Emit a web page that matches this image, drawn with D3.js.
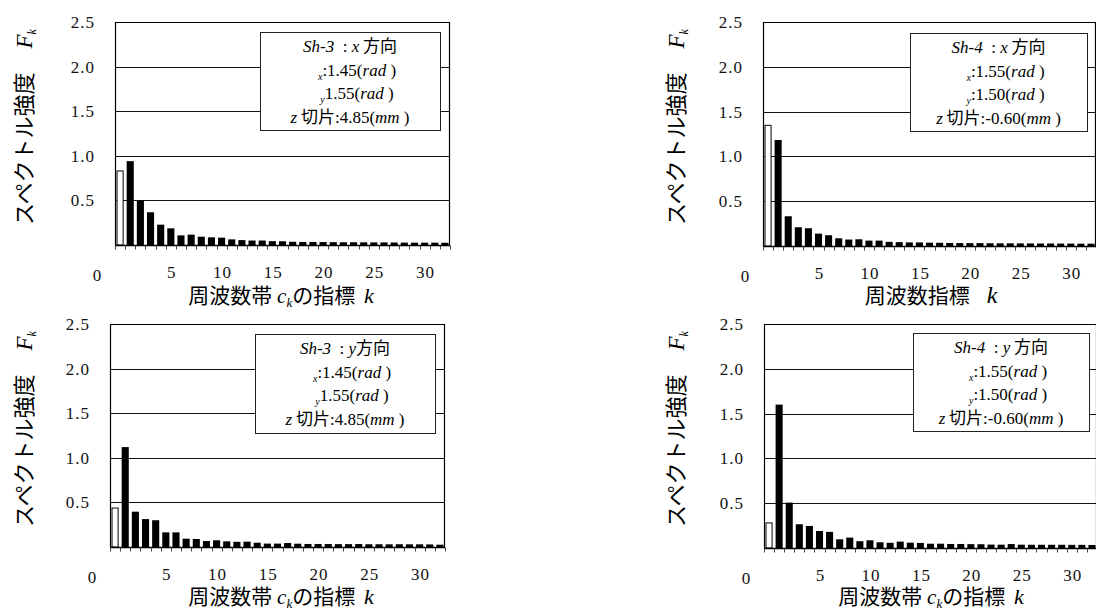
<!DOCTYPE html>
<html><head><meta charset="utf-8">
<script src="https://cdn.jsdelivr.net/npm/d3@7"></script>
<style>body{margin:0;background:#fff;overflow:hidden}</style>
</head><body><svg id="c" width="1096" height="608"></svg>
<script>
// ---- data ----
const categories = d3.range(0, 33);
const sh3xValues = [0.83, 0.94, 0.50, 0.367, 0.228, 0.187, 0.108, 0.116, 0.093, 0.086, 0.082, 0.063, 0.055, 0.05, 0.05, 0.043, 0.042, 0.036, 0.034, 0.034, 0.033, 0.032, 0.031, 0.031, 0.03, 0.029, 0.029, 0.028, 0.027, 0.026, 0.026, 0.026, 0.025];
const sh4xValues = [1.347, 1.183, 0.332, 0.209, 0.198, 0.138, 0.12, 0.086, 0.072, 0.075, 0.06, 0.06, 0.046, 0.043, 0.04, 0.04, 0.037, 0.036, 0.034, 0.033, 0.032, 0.032, 0.031, 0.03, 0.03, 0.029, 0.029, 0.028, 0.028, 0.027, 0.027, 0.026, 0.026];
const sh3yValues = [0.437, 1.12, 0.396, 0.313, 0.30, 0.164, 0.164, 0.093, 0.09, 0.067, 0.075, 0.063, 0.058, 0.06, 0.048, 0.038, 0.038, 0.045, 0.037, 0.034, 0.034, 0.033, 0.032, 0.032, 0.033, 0.031, 0.031, 0.03, 0.031, 0.03, 0.03, 0.029, 0.026];
const sh4yValues = [0.28, 1.60, 0.507, 0.265, 0.246, 0.19, 0.18, 0.097, 0.116, 0.076, 0.086, 0.064, 0.058, 0.071, 0.06, 0.057, 0.048, 0.048, 0.045, 0.045, 0.043, 0.042, 0.038, 0.037, 0.044, 0.037, 0.036, 0.036, 0.036, 0.036, 0.035, 0.035, 0.034];
const yTickValues = [0.5, 1.0, 1.5, 2.0, 2.5];
const yTickLabels = ["0.5", "1.0", "1.5", "2.0", "2.5"];
const xTickValues = [5, 10, 15, 20, 25, 30];
const xZeroLabel = "0";
const yTitleText = "スペクトル強度";
const legendSh3x = [
  [["Sh-3", "i"], ["  : ", "r"], ["x", "i"], [" 方向", "c"]],
  [["x", "sub"], [":1.45(", "r"], ["rad", "i"], [" )", "r"]],
  [["y", "sub"], ["1.55(", "r"], ["rad", "i"], [" )", "r"]],
  [["z", "i"], [" 切片", "c"], [":4.85(", "r"], ["mm", "i"], [" )", "r"]]
];
const legendSh4x = [
  [["Sh-4", "i"], ["  : ", "r"], ["x", "i"], [" 方向", "c"]],
  [["x", "sub"], [":1.55(", "r"], ["rad", "i"], [" )", "r"]],
  [["y", "sub"], [":1.50(", "r"], ["rad", "i"], [" )", "r"]],
  [["z", "i"], [" 切片", "c"], [":-0.60(", "r"], ["mm", "i"], [" )", "r"]]
];
const legendSh3y = [
  [["Sh-3", "i"], ["  : ", "r"], ["y", "i"], ["方向", "c"]],
  [["x", "sub"], [":1.45(", "r"], ["rad", "i"], [" )", "r"]],
  [["y", "sub"], ["1.55(", "r"], ["rad", "i"], [" )", "r"]],
  [["z", "i"], [" 切片", "c"], [":4.85(", "r"], ["mm", "i"], [" )", "r"]]
];
const legendSh4y = [
  [["Sh-4", "i"], ["  : ", "r"], ["y", "i"], [" 方向", "c"]],
  [["x", "sub"], [":1.55(", "r"], ["rad", "i"], [" )", "r"]],
  [["y", "sub"], [":1.50(", "r"], ["rad", "i"], [" )", "r"]],
  [["z", "i"], [" 切片", "c"], [":-0.60(", "r"], ["mm", "i"], [" )", "r"]]
];
const xTitleBand = [["周波数帯 ", "c"], ["c", "ib"], ["k", "sub"], ["の指標 ", "c"], ["k", "ik"]];
const xTitleIndex = [["周波数指標", "c"], ["k", "ikg"]];

// ---- drawing ----
const SERIF = "'Liberation Serif','Times New Roman',serif";
const CJK = "'Noto Sans CJK JP','Noto Sans CJK SC',sans-serif";
const svg = d3.select("#c");

function addSegments(textSel, segs, baseSize) {
  let prevSub = false;
  segs.forEach(([t, s]) => {
    const ts = textSel.append("tspan").text(t).attr("xml:space", "preserve");
    let dy = 0;
    if (s === "sub") { dy = prevSub ? 0 : 4; }
    else if (prevSub) { dy = -4; }
    if (dy) ts.attr("dy", dy);
    prevSub = s === "sub";
    if (s === "c") ts.attr("font-family", CJK).attr("font-size", baseSize);
    else if (s === "i") ts.attr("font-family", SERIF).attr("font-style", "italic").attr("font-size", baseSize);
    else if (s === "r") ts.attr("font-family", SERIF).attr("font-size", baseSize);
    else if (s === "sub") ts.attr("font-family", SERIF).attr("font-style", "italic").attr("font-size", Math.round(baseSize * 0.6));
    else if (s === "ib") ts.attr("font-family", SERIF).attr("font-style", "italic").attr("font-size", baseSize);
    else if (s === "ik") ts.attr("font-family", SERIF).attr("font-style", "italic").attr("font-size", baseSize + 1).attr("dx", 4);
    else if (s === "ikg") ts.attr("font-family", SERIF).attr("font-style", "italic").attr("font-size", baseSize + 3).attr("dx", 17);
  });
}

function drawPanel(p) {
  const g = svg.append("g");
  const x = d3.scaleBand().domain(categories).range([p.left, p.right]).paddingInner(0.3).paddingOuter(0.15);
  const xb = d3.scaleLinear().domain([0, categories.length]).range([p.left, p.right]);
  const y = d3.scaleLinear().domain([0, 2.5]).range([p.bottom, p.top]);

  // gridlines
  g.selectAll("line.grid").data(yTickValues.slice(0, 4)).join("line")
    .attr("x1", p.left).attr("x2", p.right)
    .attr("y1", d => Math.round(y(d)) + 0.5).attr("y2", d => Math.round(y(d)) + 0.5)
    .attr("stroke", "#111").attr("stroke-width", 1);

  // frame (top, left, right)
  const t = Math.round(y(2.5)) + 0.5, b = Math.round(y(0)) + 0.5;
  g.append("path")
    .attr("d", `M${p.left + 0.5},${b}V${t}H${p.right - 0.5}V${b}`)
    .attr("fill", "none").attr("stroke", "#000").attr("stroke-width", 1.2);

  // legend box
  const lg = g.append("g");
  lg.append("rect").attr("x", p.box[0] + 0.5).attr("y", p.box[1] + 0.5)
    .attr("width", p.box[2] - p.box[0]).attr("height", p.box[3] - p.box[1])
    .attr("fill", "#fff").attr("stroke", "#222").attr("stroke-width", 1);
  const cx = (p.box[0] + p.box[2]) / 2;
  p.legend.forEach((line, i) => {
    const tx = lg.append("text").attr("x", cx + (i === 1 || i === 2 ? 7 : 0)).attr("y", p.box[1] + 20 + i * 23.5)
      .attr("text-anchor", "middle").attr("fill", "#000");
    addSegments(tx, line, 17);
  });

  // bars
  const rows = p.values.map((v, i) => ({ k: categories[i], v }));
  g.selectAll("rect.bar").data(rows).join("rect")
    .attr("x", d => x(d.k) + (d.k === 0 ? 0.5 : 0))
    .attr("width", d => x.bandwidth() - (d.k === 0 ? 1 : 0))
    .attr("y", d => y(d.v))
    .attr("height", d => y(0) - y(d.v))
    .attr("fill", d => d.k === 0 ? "#fff" : "#000")
    .attr("stroke", d => d.k === 0 ? "#000" : "none")
    .attr("stroke-width", 1);

  // baseline and ticks
  g.append("line").attr("x1", p.left).attr("x2", p.right).attr("y1", b).attr("y2", b)
    .attr("stroke", "#000").attr("stroke-width", 1.3);
  g.selectAll("line.tk").data(d3.range(0, categories.length + 1)).join("line")
    .attr("x1", d => Math.round(xb(d)) + 0.5).attr("x2", d => Math.round(xb(d)) + 0.5)
    .attr("y1", b).attr("y2", b + 4).attr("stroke", "#444").attr("stroke-width", 1);

  // y tick labels
  g.selectAll("text.yl").data(yTickValues).join("text")
    .attr("x", p.left - 20).attr("y", d => y(d) + 6)
    .attr("text-anchor", "end").attr("font-family", SERIF).attr("font-size", 17)
    .attr("letter-spacing", 1).attr("fill", "#111")
    .text((d, i) => yTickLabels[i]);

  // x tick labels
  g.selectAll("text.xl").data(xTickValues).join("text")
    .attr("x", d => x(d) + x.bandwidth() / 2 + 1).attr("y", p.bottom + 33)
    .attr("text-anchor", "middle").attr("font-family", SERIF).attr("font-size", 17)
    .attr("letter-spacing", 1).attr("fill", "#111")
    .text(d => d);
  g.append("text").attr("x", p.left - 18).attr("y", p.bottom + 36)
    .attr("text-anchor", "middle").attr("font-family", SERIF).attr("font-size", 17).attr("fill", "#111")
    .text(xZeroLabel);

  // x title
  const xt = g.append("text").attr("x", p.xTitleX).attr("y", p.xTitleY)
    .attr("text-anchor", "middle").attr("fill", "#000");
  addSegments(xt, p.xTitle, 21);

  // y title (rotated)
  const yt = g.append("text")
    .attr("transform", `translate(${p.yTitleX},${p.top + 105}) rotate(-90)`)
    .attr("text-anchor", "middle").attr("fill", "#000");
  yt.append("tspan").attr("font-family", CJK).attr("font-size", 22).text(yTitleText);
  yt.append("tspan").attr("font-family", SERIF).attr("font-style", "italic").attr("font-size", 23).attr("dx", 24).text("F");
  yt.append("tspan").attr("font-family", SERIF).attr("font-style", "italic").attr("font-size", 12).attr("dy", 4).text("k");
}

drawPanel({ left: 115, right: 450, top: 22, bottom: 245, values: sh3xValues, legend: legendSh3x,
  box: [260, 32, 440, 130], xTitle: xTitleBand, xTitleX: 281, xTitleY: 303, yTitleX: 32 });
drawPanel({ left: 763, right: 1096, top: 22, bottom: 246, values: sh4xValues, legend: legendSh4x,
  box: [910, 33, 1087, 131], xTitle: xTitleIndex, xTitleX: 931, xTitleY: 303, yTitleX: 684 });
drawPanel({ left: 110, right: 445, top: 324, bottom: 547, values: sh3yValues, legend: legendSh3y,
  box: [255, 334, 435, 433], xTitle: xTitleBand, xTitleX: 281, xTitleY: 604, yTitleX: 32 });
drawPanel({ left: 764, right: 1097, top: 324, bottom: 548, values: sh4yValues, legend: legendSh4y,
  box: [913, 333, 1089, 431], xTitle: xTitleBand, xTitleX: 931, xTitleY: 604, yTitleX: 684 });
</script>
</body></html>
